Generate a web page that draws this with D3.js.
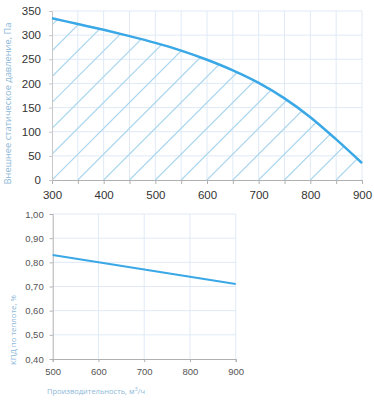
<!DOCTYPE html>
<html>
<head>
<meta charset="utf-8">
<script src="https://cdn.jsdelivr.net/npm/d3@7"></script>
<style>
  body { margin: 0; background: #fff; }
  svg { display: block; font-family: "Open Sans", "Liberation Sans", sans-serif; }
</style>
</head>
<body>
<svg id="chart" width="374" height="400"></svg>
<script>
// top chart: pressure curve
let flowTop = [300, 350, 400, 450, 500, 550, 600, 650, 700, 750, 800, 850, 900];
let pressure = [335, 323, 311, 298, 284, 268, 249, 227, 201, 169, 130, 84, 35];
let topXTicks = [300, 400, 500, 600, 700, 800, 900];
let topYTicks = [0, 50, 100, 150, 200, 250, 300, 350];

// bottom chart: heat efficiency
let flowBottom = [500, 600, 700, 800, 900];
let efficiency = [0.83, 0.80, 0.77, 0.74, 0.71];
let bottomXTicks = [500, 600, 700, 800, 900];
let bottomYTicks = [0.4, 0.5, 0.6, 0.7, 0.8, 0.9, 1.0];

let svg = d3.select("#chart");
let gridColor = "#dfeaf6";
let axisColor = "#b0b0b0";
let lineColor = "#3aa8e6";
let labelColor = "#8db8d8";

// ---------- TOP ----------
let x = d3.scaleLinear().domain([300, 900]).range([52, 362]);
let y = d3.scaleLinear().domain([0, 350]).range([180, 11]);

let gTop = svg.append("g");

// grid
gTop.append("g").selectAll("line")
  .data(d3.range(350, 901, 50))
  .enter().append("line")
  .attr("x1", d => x(d)).attr("x2", d => x(d))
  .attr("y1", y(0)).attr("y2", y(350))
  .attr("stroke", gridColor).attr("stroke-width", 1);

gTop.append("g").selectAll("line")
  .data(topYTicks.slice(1))
  .enter().append("line")
  .attr("x1", x(300)).attr("x2", x(900))
  .attr("y1", d => y(d)).attr("y2", d => y(d))
  .attr("stroke", gridColor).attr("stroke-width", 1);

// hatched area under curve
let pts = flowTop.map((f, i) => [f, pressure[i]]);
let area = d3.area()
  .x(d => x(d[0])).y0(y(0)).y1(d => y(d[1]))
  .curve(d3.curveMonotoneX);

svg.append("defs").append("clipPath").attr("id", "under")
  .append("path").datum(pts).attr("d", area);

let step = x(350) - x(300);
let h = y(0) - y(350);
gTop.append("g").attr("clip-path", "url(#under)")
  .selectAll("line")
  .data(d3.range(-14, 13))
  .enter().append("line")
  .attr("x1", k => x(300) + k * step)
  .attr("y1", y(0))
  .attr("x2", k => x(300) + k * step + h)
  .attr("y2", y(0) - h)
  .attr("stroke", "#aad6ee").attr("stroke-width", 1.2);

// axes
let xAxisTop = gTop.append("g")
  .attr("transform", "translate(0," + y(0) + ")")
  .call(d3.axisBottom(x).tickValues(d3.range(300, 901, 50)).tickSize(4).tickFormat(d => topXTicks.includes(d) ? d : ""));
xAxisTop.select(".domain").attr("stroke", axisColor);
xAxisTop.selectAll(".tick line").attr("stroke", axisColor);
xAxisTop.selectAll(".tick text").attr("fill", "#333").attr("font-size", 11.5).attr("dy", "1.05em");

let yAxisTop = gTop.append("g")
  .attr("transform", "translate(" + x(300) + ",0)")
  .call(d3.axisLeft(y).tickValues(topYTicks).tickSize(3).tickPadding(8));
yAxisTop.select(".domain").attr("stroke", "#c8c8c8");
yAxisTop.selectAll(".tick line").attr("stroke", "#c8c8c8");
yAxisTop.selectAll(".tick text").attr("fill", "#333").attr("font-size", 11.5);

gTop.append("path")
  .datum(pts)
  .attr("fill", "none")
  .attr("stroke", lineColor)
  .attr("stroke-width", 2.5)
  .attr("d", d3.line().x(d => x(d[0])).y(d => y(d[1])).curve(d3.curveMonotoneX));

gTop.append("text")
  .attr("transform", "translate(11," + ((y(0) + y(350)) / 2 + 8) + ") rotate(-90)")
  .attr("text-anchor", "middle")
  .attr("fill", labelColor)
  .attr("font-size", 9.3)
  .text("Внешнее статическое давление, Па");

// ---------- BOTTOM ----------
let x2 = d3.scaleLinear().domain([500, 900]).range([52.7, 235.7]);
let y2 = d3.scaleLinear().domain([0.4, 1.0]).range([359, 214]);

let gBot = svg.append("g");

gBot.append("g").selectAll("line")
  .data(bottomXTicks.slice(1))
  .enter().append("line")
  .attr("x1", d => x2(d)).attr("x2", d => x2(d))
  .attr("y1", y2(0.4)).attr("y2", y2(1.0))
  .attr("stroke", gridColor);

gBot.append("g").selectAll("line")
  .data(bottomYTicks.slice(1))
  .enter().append("line")
  .attr("x1", x2(500)).attr("x2", x2(900))
  .attr("y1", d => y2(d)).attr("y2", d => y2(d))
  .attr("stroke", gridColor);

let xAxisBot = gBot.append("g")
  .attr("transform", "translate(0," + y2(0.4) + ")")
  .call(d3.axisBottom(x2).tickValues(bottomXTicks).tickSize(3).tickPadding(6));
xAxisBot.select(".domain").attr("stroke", axisColor);
xAxisBot.selectAll(".tick line").attr("stroke", axisColor);
xAxisBot.selectAll(".tick text").attr("fill", "#555").attr("font-size", 9.5);

let yAxisBot = gBot.append("g")
  .attr("transform", "translate(" + x2(500) + ",0)")
  .call(d3.axisLeft(y2).tickValues(bottomYTicks).tickSize(3).tickPadding(6)
    .tickFormat(d => d3.format(".2f")(d).replace(".", ",")));
yAxisBot.select(".domain").attr("stroke", axisColor);
yAxisBot.selectAll(".tick line").attr("stroke", axisColor);
yAxisBot.selectAll(".tick text").attr("fill", "#555").attr("font-size", 9.5);

gBot.append("path")
  .datum(flowBottom.map((f, i) => [f, efficiency[i]]))
  .attr("fill", "none")
  .attr("stroke", lineColor)
  .attr("stroke-width", 2)
  .attr("d", d3.line().x(d => x2(d[0])).y(d => y2(d[1])));

gBot.append("text")
  .attr("transform", "translate(16,330) rotate(-90)")
  .attr("text-anchor", "middle")
  .attr("fill", labelColor)
  .attr("font-size", 7.8)
  .text("КПД по теплоте, %");

let xl = gBot.append("text")
  .attr("x", 96).attr("y", 394)
  .attr("text-anchor", "middle")
  .attr("fill", labelColor)
  .attr("font-size", 7.5);
xl.append("tspan").text("Производительность, м");
xl.append("tspan").attr("font-size", 5.5).attr("dy", -3).text("3");
xl.append("tspan").attr("dy", 3).text("/ч");
</script>
</body>
</html>
